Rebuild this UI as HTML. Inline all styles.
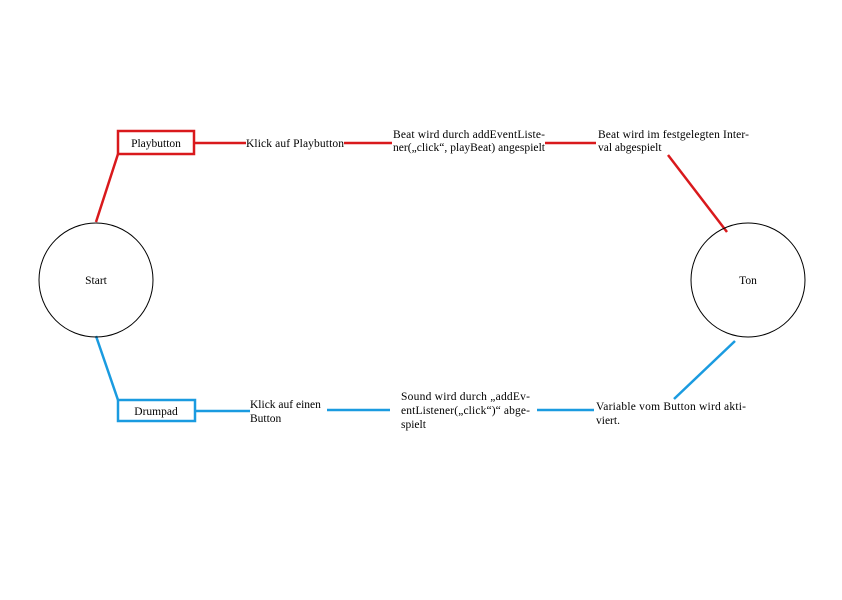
<!DOCTYPE html>
<html><head><meta charset="utf-8"><style>
body{margin:0;width:842px;height:595px;background:#fff;overflow:hidden}
svg text{font-family:"Liberation Serif",serif;font-size:11.5px;fill:#000}
</style></head><body>
<svg width="842" height="595" viewBox="0 0 842 595">
<g stroke="#d9191c" stroke-width="2.5" fill="none">
<rect x="118" y="131" width="76" height="23"/>
<line x1="118" y1="154" x2="96" y2="222"/>
<line x1="194" y1="143" x2="246" y2="143"/>
<line x1="344" y1="143" x2="392" y2="143"/>
<line x1="545" y1="143" x2="596" y2="143"/>
<line x1="668" y1="155" x2="727" y2="232"/>
</g>
<g stroke="#1a9be0" stroke-width="2.5" fill="none">
<rect x="118" y="400" width="77" height="21"/>
<line x1="96" y1="336" x2="118" y2="400"/>
<line x1="195" y1="411" x2="250" y2="411"/>
<line x1="327" y1="410" x2="390" y2="410"/>
<line x1="537" y1="410" x2="594" y2="410"/>
<line x1="674" y1="399" x2="735" y2="341"/>
</g>
<circle cx="96" cy="280" r="57" fill="none" stroke="#000" stroke-width="1"/>
<circle cx="748" cy="280" r="57" fill="none" stroke="#000" stroke-width="1"/>
<text x="96" y="284" text-anchor="middle">Start</text>
<text x="748" y="284" text-anchor="middle">Ton</text>
<text x="156" y="147" text-anchor="middle">Playbutton</text>
<text x="156" y="415" text-anchor="middle">Drumpad</text>
<text x="246" y="147" textLength="98">Klick auf Playbutton</text>
<text x="393" y="138" textLength="152">Beat wird durch addEventListe-</text>
<text x="393" y="151" textLength="152">ner(„click“, playBeat) angespielt</text>
<text x="598" y="138" textLength="151">Beat wird im festgelegten Inter-</text>
<text x="598" y="151">val abgespielt</text>
<text x="250" y="408">Klick auf einen</text>
<text x="250" y="422">Button</text>
<text x="401" y="400" textLength="129">Sound wird durch „addEv-</text>
<text x="401" y="414" textLength="129">entListener(„click“)“ abge-</text>
<text x="401" y="428">spielt</text>
<text x="596" y="410" textLength="150">Variable vom Button wird akti-</text>
<text x="596" y="424">viert.</text>
</svg>
</body></html>
